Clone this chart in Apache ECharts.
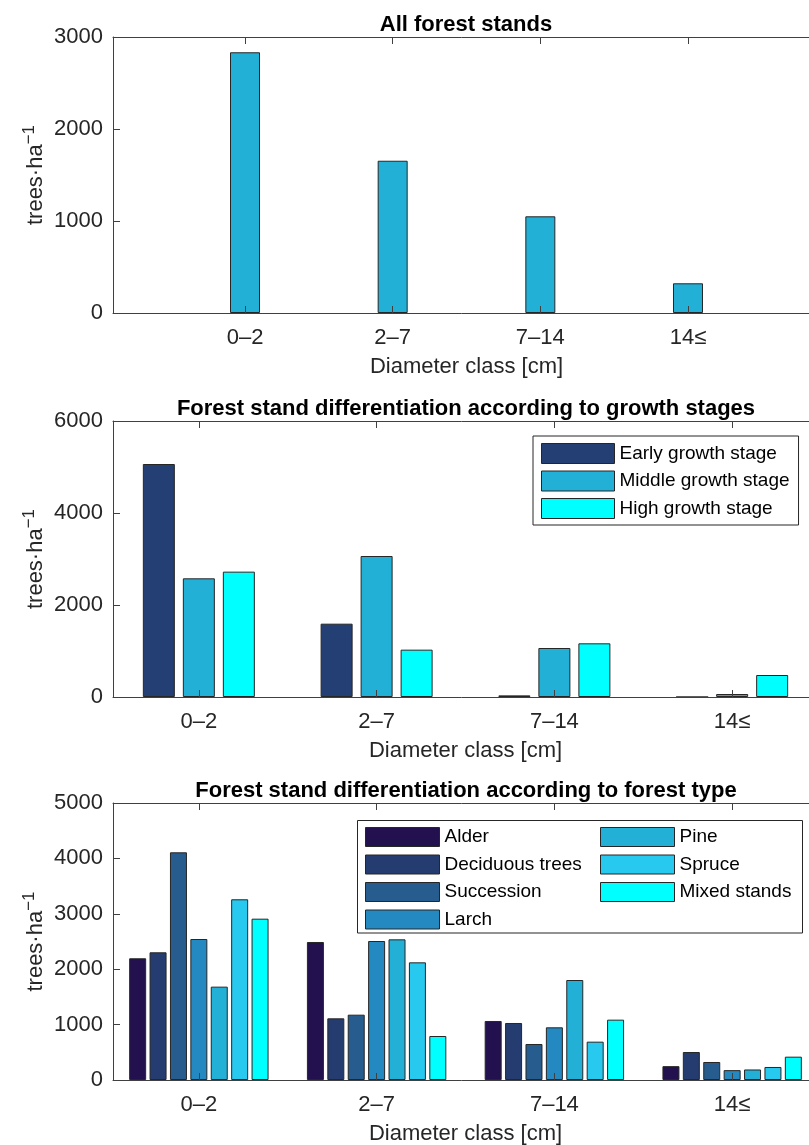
<!DOCTYPE html>
<html>
<head>
<meta charset="utf-8">
<script src="https://cdn.jsdelivr.net/npm/echarts@6/dist/echarts.min.js"></script>
<style>
  html, body { margin: 0; padding: 0; background: #fff; }
  #chart { width: 809px; height: 1145px; }
</style>
</head>
<body>
<div id="chart"></div>
<script>
// Tree density by diameter class
const categories = ['0–2', '2–7', '7–14', '14≤'];
const xTickPositions = [1, 2, 3, 4];

// Panel 1: all stands
const allStands = [2834, 1655, 1051, 323];

// Panel 2: growth stages
const growthNames = ['Early growth stage', 'Middle growth stage', 'High growth stage'];
const earlyStage = [5065, 1594, 35, 0];
const middleStage = [2580, 3065, 1065, 65];
const highStage = [2725, 1029, 1167, 478];

// Panel 3: forest types
const typeNames = ['Alder', 'Deciduous trees', 'Succession', 'Larch', 'Pine', 'Spruce', 'Mixed stands'];
const alder = [2197, 2491, 1065, 250];
const deciduous = [2305, 1113, 1029, 505];
const succession = [4110, 1179, 650, 325];
const larch = [2545, 2509, 951, 178];
const pine = [1685, 2539, 1805, 190];
const spruce = [3262, 2124, 692, 235];
const mixed = [2912, 794, 1089, 421];

const yTicks1 = [0, 3000, 1000];
const yTicks2 = [0, 6000, 2000];
const yTicks3 = [0, 5000, 1000];

const FONT = '"Liberation Sans", Arial, Helvetica, sans-serif';
const AXIS_COLOR = '#404040';
const TEXT_COLOR = '#262626';
const EDGE = '#262626';

const growthColors = ['#243f73', '#23b0d6', '#00ffff'];
const typeColors = ['#23104f', '#243c6f', '#265d8e', '#2489c1', '#23b0d6', '#27c9ef', '#00ffff'];

const toPoints = arr => arr.map((v, i) => [xTickPositions[i], v]);

function xAxesFor(gridIndex, min, max) {
  const line = { show: true, onZero: false, lineStyle: { color: AXIS_COLOR, width: 1 } };
  const tick = { show: true, inside: true, length: 7, customValues: xTickPositions,
                 lineStyle: { color: AXIS_COLOR, width: 1 } };
  return [
    {
      type: 'value', gridIndex, min, max, position: 'bottom', z: 5,
      axisLine: line, axisTick: tick, splitLine: { show: false },
      axisLabel: {
        customValues: xTickPositions,
        formatter: v => categories[Math.round(v) - 1] || '',
        fontSize: 22, color: TEXT_COLOR, fontFamily: FONT, margin: 14
      },
      name: 'Diameter class [cm]', nameLocation: 'middle', nameGap: 43,
      nameMoveOverlap: false,
      nameTextStyle: { fontSize: 22, color: TEXT_COLOR, fontFamily: FONT }
    },
    {
      type: 'value', gridIndex, min, max, position: 'top', z: 5,
      axisLine: line, axisTick: tick, splitLine: { show: false },
      axisLabel: { show: false }
    }
  ];
}

function yAxisFor(gridIndex, ticks) {
  return {
    type: 'value', gridIndex, min: ticks[0], max: ticks[1], interval: ticks[2], z: 5,
    axisLine: { show: true, lineStyle: { color: AXIS_COLOR, width: 1 } },
    axisTick: { show: true, inside: true, length: 7, lineStyle: { color: AXIS_COLOR, width: 1 } },
    splitLine: { show: false },
    axisLabel: { fontSize: 22, color: TEXT_COLOR, fontFamily: FONT, margin: 10, formatter: v => String(v) },
    name: '{m|trees·ha}{s|−1}', nameLocation: 'middle', nameRotate: 90, nameGap: 62,
    nameMoveOverlap: false,
    nameTextStyle: {
      color: TEXT_COLOR, fontFamily: FONT, fontSize: 22,
      rich: {
        m: { fontSize: 22, lineHeight: 30, color: TEXT_COLOR, fontFamily: FONT },
        s: { fontSize: 17, lineHeight: 17, verticalAlign: 'top', color: TEXT_COLOR, fontFamily: FONT }
      }
    }
  };
}

function titleFor(text, top) {
  return {
    text, left: 466, top, textAlign: 'center', padding: 0,
    textStyle: { fontSize: 22, fontWeight: 'bold', color: '#000', fontFamily: FONT }
  };
}

function barSeries(name, values, color, xAxisIndex, yAxisIndex, barWidth, barGap) {
  return {
    type: 'bar', name, xAxisIndex, yAxisIndex, barWidth, barGap,
    data: toPoints(values),
    itemStyle: { color, borderColor: EDGE, borderWidth: 1 },
    emphasis: { disabled: true }, animation: false
  };
}

const legendText = { fontSize: 19, color: '#000', fontFamily: FONT };
const legendItemStyle = { borderColor: EDGE, borderWidth: 1 };

const typeSeries = [alder, deciduous, succession, larch, pine, spruce, mixed];

const option = {
  animation: false,
  backgroundColor: '#fff',
  title: [
    titleFor('All forest stands', 14),
    titleFor('Forest stand differentiation according to growth stages', 398),
    titleFor('Forest stand differentiation according to forest type', 780)
  ],
  grid: [
    { left: 113, top: 37, width: 707, height: 276, outerBoundsMode: 'none' },
    { left: 113, top: 421, width: 705, height: 276, outerBoundsMode: 'none' },
    { left: 113, top: 803, width: 705, height: 277, outerBoundsMode: 'none' }
  ],
  xAxis: [
    ...xAxesFor(0, 0.106, 4.894),
    ...xAxesFor(1, 0.517, 4.483),
    ...xAxesFor(2, 0.517, 4.483)
  ],
  yAxis: [yAxisFor(0, yTicks1), yAxisFor(1, yTicks2), yAxisFor(2, yTicks3)],
  legend: [
    {
      data: growthNames, orient: 'vertical', left: 533, top: 436,
      padding: [7, 9, 6, 8], itemGap: 6.5, itemWidth: 73, itemHeight: 20,
      icon: 'rect', borderColor: EDGE, borderWidth: 1, backgroundColor: '#fff',
      textStyle: legendText, itemStyle: legendItemStyle, selectedMode: false
    },
    {
      data: typeNames.slice(0, 4), orient: 'vertical', left: 365, top: 827,
      padding: 0, itemGap: 7.5, itemWidth: 74, itemHeight: 19, icon: 'rect', z: 6,
      textStyle: legendText, itemStyle: legendItemStyle, selectedMode: false
    },
    {
      data: typeNames.slice(4), orient: 'vertical', left: 600, top: 827,
      padding: 0, itemGap: 7.5, itemWidth: 74, itemHeight: 19, icon: 'rect', z: 6,
      textStyle: legendText, itemStyle: legendItemStyle, selectedMode: false
    }
  ],
  graphic: [{
    type: 'rect', z: 5,
    shape: { x: 357.5, y: 820.5, width: 445, height: 112.5 },
    style: { fill: '#fff', stroke: EDGE, lineWidth: 1 }
  }],
  series: [
    barSeries('All forest stands', allStands, '#23b0d6', 0, 0, 30),
    barSeries(growthNames[0], earlyStage, growthColors[0], 2, 1, 32, '25%'),
    barSeries(growthNames[1], middleStage, growthColors[1], 2, 1, 32, '25%'),
    barSeries(growthNames[2], highStage, growthColors[2], 2, 1, 32, '25%'),
    ...typeSeries.map((vals, k) => barSeries(typeNames[k], vals, typeColors[k], 4, 2, 17, '20%'))
  ]
};

const chart = echarts.init(document.getElementById('chart'), null, { renderer: 'canvas' });
chart.setOption(option);
</script>
</body>
</html>
